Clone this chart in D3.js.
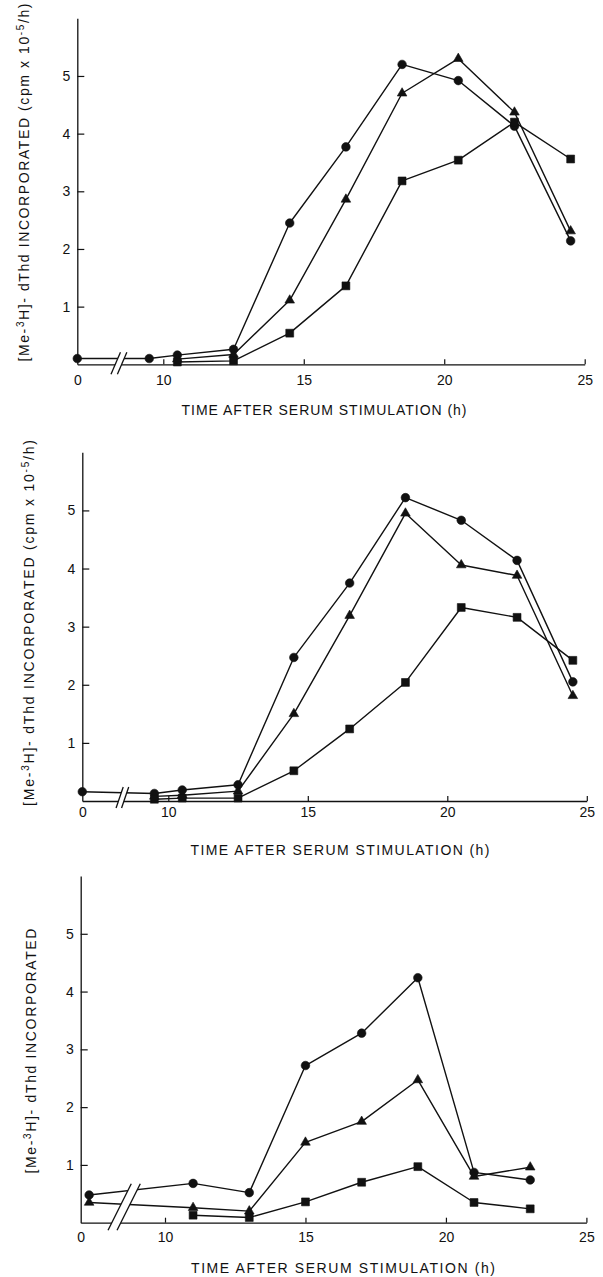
<!DOCTYPE html>
<html><head><meta charset="utf-8">
<script src="https://cdn.jsdelivr.net/npm/d3@7/dist/d3.min.js"></script>
<style>body{margin:0;background:#fff}svg{display:block}</style>
</head><body>
<svg id="c" width="603" height="1277"></svg>
<script>
// ---------------- data ----------------
const xTickValues = [0, 10, 15, 20, 25];
const yTickValues = [1, 2, 3, 4, 5];
const xTitleText = "TIME AFTER SERUM STIMULATION (h)";

// Panel A
const aCircleTimes = [0, 9.5, 10.5, 12.5, 14.5, 16.5, 18.5, 20.5, 22.5, 24.5];
const aCircle      = [0.10, 0.10, 0.16, 0.26, 2.45, 3.77, 5.20, 4.92, 4.13, 2.14];
const aTriTimes    = [10.5, 12.5, 14.5, 16.5, 18.5, 20.5, 22.5, 24.5];
const aTriangle    = [0.09, 0.17, 1.11, 2.86, 4.70, 5.30, 4.37, 2.31];
const aSqTimes     = [10.5, 12.5, 14.5, 16.5, 18.5, 20.5, 22.5, 24.5];
const aSquare      = [0.04, 0.06, 0.54, 1.36, 3.18, 3.54, 4.20, 3.56];

// Panel B
const bCircleTimes = [0, 9.5, 10.5, 12.5, 14.5, 16.5, 18.5, 20.5, 22.5, 24.5];
const bCircle      = [0.16, 0.13, 0.19, 0.28, 2.47, 3.75, 5.22, 4.83, 4.14, 2.05];
const bTriTimes    = [9.5, 10.5, 12.5, 14.5, 16.5, 18.5, 20.5, 22.5, 24.5];
const bTriangle    = [0.08, 0.10, 0.17, 1.50, 3.19, 4.95, 4.06, 3.88, 1.81];
const bSqTimes     = [9.5, 10.5, 12.5, 14.5, 16.5, 18.5, 20.5, 22.5, 24.5];
const bSquare      = [0.03, 0.05, 0.05, 0.52, 1.24, 2.04, 3.33, 3.16, 2.42];

// Panel C
const cCircleTimes = [0.3, 11, 13, 15, 17, 19, 21, 23];
const cCircle      = [0.48, 0.68, 0.52, 2.72, 3.28, 4.24, 0.87, 0.74];
const cTriTimes    = [0.3, 11, 13, 15, 17, 19, 21, 23];
const cTriangle    = [0.35, 0.26, 0.20, 1.39, 1.75, 2.47, 0.80, 0.96];
const cSqTimes     = [11, 13, 15, 17, 19, 21, 23];
const cSquare      = [0.13, 0.09, 0.36, 0.70, 0.97, 0.35, 0.24];

// ---------------- layout ----------------
const INK = "#111";
const FONT = "'Liberation Sans', Arial, Helvetica, sans-serif";

const panels = [
  { series: [
      {t: aCircleTimes, v: aCircle, shape: "circle"},
      {t: aTriTimes, v: aTriangle, shape: "triangle"},
      {t: aSqTimes, v: aSquare, shape: "square"}],
    L: {x0: 77.3, x10: 163.3, x25: 584.7, yBase: 364.3, yTop: 18.3,
        xLabPad: 10.5, xTitleY: 415, xTitleX: 324, xTitleLen: 285,
        yTitleX: 29, yTitleY: 182.5, yTitleLen: 358, full: true,
        brk: {cx: 118.5, gap: 6.4, below: 10, above: 12, slope: 0.43}} },
  { series: [
      {t: bCircleTimes, v: bCircle, shape: "circle"},
      {t: bTriTimes, v: bTriangle, shape: "triangle"},
      {t: bSqTimes, v: bSquare, shape: "square"}],
    L: {x0: 82.3, x10: 168.3, x25: 586.8, yBase: 801, yTop: 452.3,
        xLabPad: 6, xTitleY: 855, xTitleX: 340, xTitleLen: 299,
        yTitleX: 34, yTitleY: 623, yTitleLen: 366, full: true,
        brk: {cx: 121.2, gap: 5.5, below: 7, above: 14, slope: 0.34}} },
  { series: [
      {t: cCircleTimes, v: cCircle, shape: "circle"},
      {t: cTriTimes, v: cTriangle, shape: "triangle"},
      {t: cSqTimes, v: cSquare, shape: "square"}],
    L: {x0: 80.7, x10: 165, x25: 586.4, yBase: 1222.7, yTop: 876,
        xLabPad: 9.5, xTitleY: 1273, xTitleX: 343, xTitleLen: 304,
        yTitleX: 36, yTitleY: 1051, yTitleLen: 245, full: false,
        brk: {cx: 116.3, gap: 9, below: 7.5, above: 39, slope: 0.5}} }
];

const svg = d3.select("#c");

panels.forEach(p => {
  const L = p.L;
  const k = (L.x25 - L.x10) / 15;
  const x = d3.scaleLinear()
    .domain([0, 1.5, 8.5, 25])
    .range([L.x0, L.x0 + 1.5 * k, L.x10 - 1.5 * k, L.x25]);
  const y = d3.scaleLinear().domain([0, 6]).range([L.yBase, L.yTop]);

  const g = svg.append("g");

  // axes
  const yAxis = d3.axisLeft(y).tickValues(yTickValues).tickFormat(d3.format("d"))
    .tickSizeInner(-7).tickSizeOuter(0).tickPadding(7);
  const ya = g.append("g").attr("transform", `translate(${L.x0},0)`).call(yAxis);

  const xAxis = d3.axisBottom(x).tickValues(xTickValues).tickFormat(d3.format("d"))
    .tickSizeInner(-5).tickSizeOuter(0).tickPadding(L.xLabPad);
  const xa = g.append("g").attr("transform", `translate(0,${L.yBase})`).call(xAxis);
  xa.selectAll(".tick").filter(d => d === 0).select("line").remove();

  [ya, xa].forEach(a => {
    a.select(".domain").attr("stroke", INK).attr("stroke-width", 1.3);
    a.selectAll(".tick line").attr("stroke", INK).attr("stroke-width", 1.2);
    a.selectAll("text").attr("fill", INK).attr("font-family", FONT).attr("font-size", 14);
  });

  // lines
  const line = d3.line().x(d => x(d[0])).y(d => y(d[1]));
  p.series.forEach(s => {
    const pts = s.t.map((t, i) => [t, s.v[i]]);
    g.append("path").datum(pts).attr("d", line)
      .attr("fill", "none").attr("stroke", INK).attr("stroke-width", 1.4)
      .attr("stroke-linejoin", "round");
  });

  // axis break
  const b = L.brk;
  const yb = L.yBase + b.below, yt = L.yBase - b.above;
  const xa1 = b.cx - b.gap / 2, xa2 = b.cx + b.gap / 2;
  const px = (c, yy) => c + (L.yBase - yy) * b.slope;
  g.append("path")
    .attr("d", `M${px(xa1, yb)},${yb} L${px(xa1, yt)},${yt} L${px(xa2, yt)},${yt} L${px(xa2, yb)},${yb} Z`)
    .attr("fill", "#fff").attr("stroke", "none");
  [xa1, xa2].forEach(c => {
    g.append("line").attr("x1", px(c, yb)).attr("y1", yb).attr("x2", px(c, yt)).attr("y2", yt)
      .attr("stroke", INK).attr("stroke-width", 1.3);
  });

  // markers
  p.series.forEach(s => {
    const pts = s.t.map((t, i) => [t, s.v[i]]);
    const sel = g.append("g").selectAll("path").data(pts).join("path")
      .attr("transform", d => `translate(${x(d[0])},${y(d[1])})`)
      .attr("fill", INK).attr("stroke", INK).attr("stroke-width", 0.6);
    if (s.shape === "circle") sel.attr("d", d3.symbol(d3.symbolCircle, 58)());
    else if (s.shape === "square") sel.attr("d", d3.symbol(d3.symbolSquare, 62)());
    else sel.attr("d", d3.symbol(d3.symbolTriangle, 40)());
  });

  // x title
  g.append("text").attr("x", L.xTitleX).attr("y", L.xTitleY)
    .attr("text-anchor", "middle").attr("font-family", FONT).attr("font-size", 14)
    .attr("fill", INK).attr("textLength", L.xTitleLen).attr("lengthAdjust", "spacing")
    .text(xTitleText);

  // y title
  const yt2 = g.append("text")
    .attr("transform", `translate(${L.yTitleX},${L.yTitleY}) rotate(-90)`)
    .attr("text-anchor", "middle").attr("font-family", FONT).attr("font-size", 14)
    .attr("fill", INK).attr("textLength", L.yTitleLen).attr("lengthAdjust", "spacing");
  yt2.append("tspan").text("[Me-");
  yt2.append("tspan").attr("dy", -5).attr("font-size", 10).text("3");
  yt2.append("tspan").attr("dy", 5).text("H]- dThd INCORPORATED");
  if (L.full) {
    yt2.append("tspan").text(" (cpm x 10");
    yt2.append("tspan").attr("dy", -5).attr("font-size", 10).text("-5");
    yt2.append("tspan").attr("dy", 5).text("/h)");
  }
});
</script>
</body></html>
